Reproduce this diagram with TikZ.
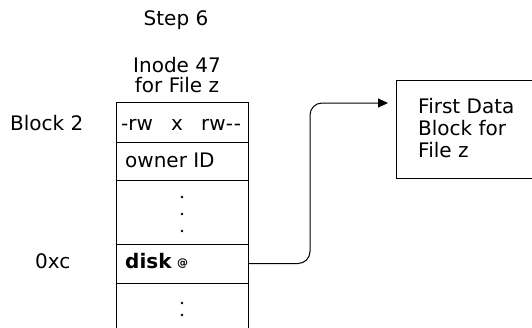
\documentclass[tikz,border=0pt]{standalone}
\usepackage{fontspec}
\setmainfont{DejaVu Sans}
\usetikzlibrary{arrows.meta}
\tikzset{
  lbl/.style={inner sep=0pt, anchor=base west, font=\fontsize{20}{22}\selectfont},
  ctr/.style={inner sep=0pt, anchor=base, font=\fontsize{20}{22}\selectfont},
  rowbox/.style={draw, line width=1pt, minimum width=132pt, inner sep=0pt, outer sep=0pt},
  dotmark/.style={fill=black, circle, inner sep=0pt, minimum size=2.8pt},
  arr/.style={line width=1pt, -{Triangle[length=10pt,width=9pt]}, rounded corners=12pt},
}
\begin{document}
\begin{tikzpicture}[x=1pt,y=-1pt]
\useasboundingbox (0,0) rectangle (532,327);
% titles
\node[ctr] (step) at (176,25) {Step 6};
\node[ctr] (inodeA) at (177,72) {Inode 47};
\node[ctr] (inodeB) at (177,92) {for File z};
% table rows
\node[rowbox, minimum height=40pt] (r1) at (182,122) {};
\node[rowbox, minimum height=38pt] (r2) at (182,161) {};
\node[rowbox, minimum height=64pt] (r3) at (182,212) {};
\node[rowbox, minimum height=39pt] (r4) at (182,263.5) {};
\coordinate (r5bl) at (116,330);
\coordinate (r5br) at (248,330);
\draw[line width=1pt] (r4.south west) -- (r5bl);
\draw[line width=1pt] (r4.south east) -- (r5br);
% row texts
\node[lbl] (perm) at (121,130) {\hbox to 120pt{-rw\hfil x\hfil rw-\kern1pt-}};
\node[lbl] (owner) at (125,167) {owner ID};
\node[lbl] (disk) at (125,268) {\bfseries disk};
\node[inner sep=0pt, font=\fontsize{11}{11}\selectfont\bfseries] (at) at (182.5,264) {@};
\node[dotmark] (d1) at (182,197) {};
\node[dotmark] (d2) at (182,214) {};
\node[dotmark] (d3) at (182,231) {};
\node[dotmark] (d4) at (182,303) {};
\node[dotmark] (d5) at (182,315) {};
% side labels
\node[lbl] (blk) at (10,130) {Block 2};
\node[lbl] (oxc) at (35,268) {0xc};
% data block
\node[draw, line width=1pt, outer sep=0pt, minimum width=160pt, minimum height=98pt, anchor=north west, inner sep=0pt] (dblock) at (396,80) {};
\node[lbl] (t1) at (418,113) {First Data};
\node[lbl] (t2) at (418,135) {Block for};
\node[lbl] (t3) at (418,157) {File z};
% arrow
\coordinate (bend) at (310,263.5);
\coordinate (ay) at (0,103);
\draw[arr, shorten >=8pt] (r4.east) -- (bend) -- (bend |- ay) -- (dblock.west |- ay);
\end{tikzpicture}
\end{document}
